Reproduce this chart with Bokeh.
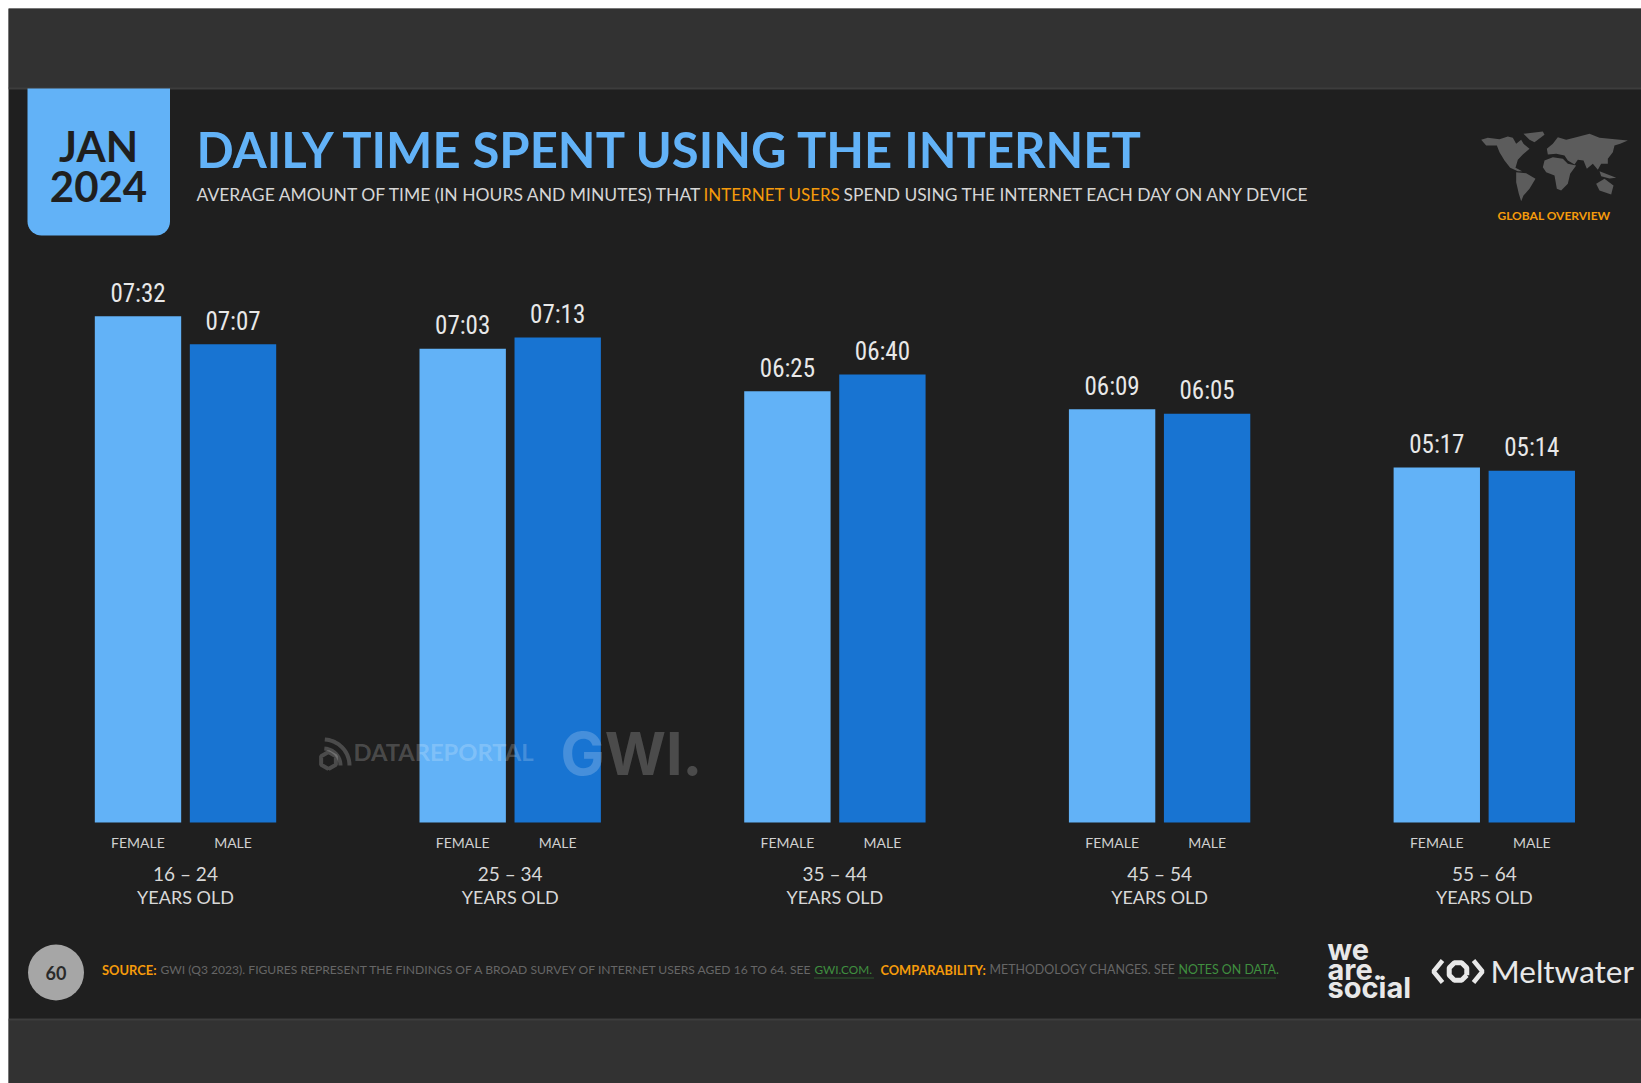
import numpy as np
from bokeh.plotting import figure
from bokeh.models import Range1d
from bokeh.core.properties import value
from bokeh.embed import file_html
from bokeh.resources import INLINE

# ---------- data ----------
age_groups = ["16 – 24", "25 – 34", "35 – 44", "45 – 54", "55 – 64"]
female_times = ["07:32", "07:03", "06:25", "06:09", "05:17"]
male_times = ["07:07", "07:13", "06:40", "06:05", "05:14"]
gender_labels = ["FEMALE", "MALE"]

title_text = "DAILY TIME SPENT USING THE INTERNET"
sub_parts = ["AVERAGE AMOUNT OF TIME (IN HOURS AND MINUTES) THAT", "INTERNET USERS",
             "SPEND USING THE INTERNET EACH DAY ON ANY DEVICE"]
foot_parts = ["SOURCE:", "GWI (Q3 2023). FIGURES REPRESENT THE FINDINGS OF A BROAD SURVEY OF INTERNET USERS AGED 16 TO 64. SEE",
              "GWI.COM.", "COMPARABILITY:", "METHODOLOGY CHANGES. SEE", "NOTES ON DATA."]

def minutes(s):
    h, m = s.split(":")
    return int(h) * 60 + int(m)

female_min = [minutes(s) for s in female_times]
male_min = [minutes(s) for s in male_times]

# ---------- page ----------
W, H = 1633, 1075
M = 8
BG, BAND, EDGE = "#1f1f1f", "#323232", "#3d3d3d"
LIGHT, DARK = "#62B2F7", "#1874D2"
ORANGE, GREEN = "#F59B0B", "#3F8F3F"

PX_PER_MIN = 1.12
BASE = 822 - M
GROUP_STEP = 324.7
GROUP0 = 185 - M
LABEL_GAP_MIN = 20.6  # value labels float this far above the bars

p = figure(width=W, height=H, output_backend="svg", toolbar_location=None,
           x_range=Range1d(0, W), y_range=Range1d(H, 0), min_border=0,
           background_fill_color=BG, border_fill_color=BG, outline_line_color=None,
           x_axis_location=None, y_axis_location=None, margin=(8, 0, 0, 8))
p.grid.visible = False
p.extra_x_ranges["groups"] = Range1d(-GROUP0 / GROUP_STEP, (W - GROUP0) / GROUP_STEP)
p.extra_y_ranges["minutes"] = Range1d((BASE - H) / PX_PER_MIN, BASE / PX_PER_MIN)

# helper: texts placed in page pixels of the reference
def T(x, y, s, size, color, font="Lato", style="normal", align="left", alpha=1.0, base="middle"):
    p.text(x=[x - M], y=[y - M], text=[s], text_font=value(font), text_font_size=f"{size}px",
           text_font_style=style, text_color=color, text_align=align, text_baseline=base, text_alpha=alpha)

def to_page(pts):
    a = np.array(pts, dtype=float)
    return list(a[:, 0] - M), list(a[:, 1] - M)

# bands
p.quad(left=0, right=W, top=0, bottom=88 - M, color=BAND, line_color=None)
p.quad(left=0, right=W, top=1019 - M, bottom=H, color=BAND, line_color=None)
p.quad(left=0, right=W, top=87 - M, bottom=89 - M, color=EDGE, line_color=None)
p.quad(left=0, right=W, top=1018 - M, bottom=1020 - M, color=EDGE, line_color=None)

# date tab with rounded lower corners
r = 14
t = np.linspace(0, np.pi / 2, 10)
bx = [27, 169.5] + list(169.5 - r + r * np.cos(t)) + list(27 + r - r * np.sin(t))
by = [88, 88] + list(235 - r + r * np.sin(t)) + list(235 - r + r * np.cos(t))
p.patch([v - M for v in bx], [v - M for v in by], color=LIGHT, line_color=None)
T(98, 145, "JAN", 42, "#1f1f1f", style="bold", align="center")
T(98, 185.5, "2024", 42, "#1f1f1f", style="bold", align="center")

# header
T(196, 148, title_text, 49, LIGHT, style="bold")
T(196, 194, sub_parts[0], 17.5, "#d6d6d6")
T(703, 194, sub_parts[1], 17, ORANGE)
T(843, 194, sub_parts[2], 17.4, "#d6d6d6")

# world map (decorative)
land = [
    [(545,178),(565,172),(600,176),(625,168),(640,172),(650,190),(665,178),(672,190),(690,205),(670,222),(655,238),(648,262),(668,272),(655,272),(632,262),(615,240),(600,215),(592,195),(560,195)],
    [(672,160),(730,153),(735,163),(705,185),(690,178)],
    [(650,275),(680,278),(708,295),(690,325),(672,345),(665,362),(658,340),(650,305)],
    [(735,240),(760,230),(790,235),(805,250),(830,255),(812,280),(805,310),(785,330),(772,325),(765,285),(740,275),(730,260)],
    [(745,222),(742,205),(760,190),(775,170),(800,178),(830,170),(870,160),(900,172),(985,180),(962,190),(945,195),(940,215),(925,235),(925,250),(905,250),(895,268),(880,250),(862,265),(852,240),(835,238),(825,252),(805,240),(795,225),(770,220)],
    [(890,310),(915,295),(942,315),(935,342),(900,330)],
    [(900,272),(925,282),(950,292),(930,294),(905,287)],
]
for poly in land:
    xs, ys = to_page([(1299 + a / 3, 80 + b / 3) for a, b in poly])
    p.patch(xs, ys, color="#5c5c5c", line_color=None)
T(1553.5, 215, "GLOBAL OVERVIEW", 12, ORANGE, style="bold", align="center")

# bars
idx = np.arange(len(age_groups))
BAR_W, OFF = 0.266, 0.1463
for off, vals, col, labs in [(-OFF, female_min, LIGHT, female_times), (OFF, male_min, DARK, male_times)]:
    p.vbar(x=list(idx + off), top=vals, bottom=0, width=BAR_W, color=col, line_color=None,
           x_range_name="groups", y_range_name="minutes")
    p.text(x=list(idx + off), y=[v + LABEL_GAP_MIN for v in vals], text=labs,
           x_range_name="groups", y_range_name="minutes",
           text_font=value("Roboto Condensed"), text_font_size="25px", text_color="#e8e8e8",
           text_align="center", text_baseline="alphabetic")

# category labels
for off, g in [(-OFF, gender_labels[0]), (OFF, gender_labels[1])]:
    p.text(x=list(idx + off), y=[841.5 - M] * 5, text=[g] * 5, x_range_name="groups",
           text_font=value("Lato"), text_font_size="14px", text_color="#d0d0d0",
           text_align="center", text_baseline="middle")
p.text(x=list(idx), y=[873 - M] * 5, text=age_groups, x_range_name="groups", text_font=value("Lato"),
       text_font_size="19px", text_color="#d8d8d8", text_align="center", text_baseline="middle")
p.text(x=list(idx), y=[896 - M] * 5, text=["YEARS OLD"] * 5, x_range_name="groups", text_font=value("Lato"),
       text_font_size="18px", text_color="#d8d8d8", text_align="center", text_baseline="middle")

# watermarks
WM = 0.2
T(353, 751, "DATAREPORTAL", 23.7, "#ffffff", style="bold", alpha=WM)
T(560, 753, "GWI.", 59, "#ffffff", font="Inter", style="bold", alpha=WM)
for rad in (17, 26):
    a = np.linspace(-np.pi / 2 + 0.05, 0, 16)
    xs, ys = to_page(list(zip(323 + rad * np.cos(a), 765 + rad * np.sin(a))))
    p.line(xs, ys, line_color="#ffffff", line_alpha=WM, line_width=4)
a = np.linspace(0, 2 * np.pi, 7)
xs, ys = to_page(list(zip(328 + 8.5 * np.sin(a), 760 + 8.5 * np.cos(a))))
p.line(xs, ys, line_color="#ffffff", line_alpha=WM, line_width=4)

# footer
p.circle(x=[55.5 - M], y=[972 - M], radius=28, color="#a6a6a6", line_color=None)
T(55.5, 972, "60", 18, "#2a2a2a", style="bold", align="center")
T(101.5, 969, foot_parts[0], 12.9, ORANGE, style="bold")
T(160, 969, foot_parts[1], 12.1, "#666666")
T(814, 969, foot_parts[2], 11.8, GREEN)
T(880, 969, foot_parts[3], 12.8, ORANGE, style="bold")
T(989, 969, foot_parts[4], 12.4, "#666666")
T(1178, 969, foot_parts[5], 12.4, GREEN)
for x0, x1 in [(814, 873), (1178, 1276)]:
    p.line([x0 - M, x1 - M], [977.5 - M, 977.5 - M], line_color=GREEN, line_width=1, line_dash="1 1")

# partner logos
for yy, s in [(949, "we"), (969, "are."), (987, "social")]:
    T(1327, yy, s, 29, "#e8e8e8", font="Inter", style="bold")
T(1490, 970, "Meltwater", 31.5, "#e8e8e8", font="Lato")
for pts in ([(1442, 960), (1433, 971), (1442, 982)], [(1473, 960), (1482, 971), (1473, 982)]):
    xs, ys = to_page(pts)
    p.line(xs, ys, line_color="#e8e8e8", line_width=4.5)
a = np.linspace(0, 2 * np.pi, 9) + np.pi / 8
xs, ys = to_page(list(zip(1457.5 + 9.5 * np.cos(a), 971 + 9.5 * np.sin(a))))
p.line(xs, ys, line_color="#e8e8e8", line_width=5)

open("out.html", "w").write(file_html(p, INLINE))
